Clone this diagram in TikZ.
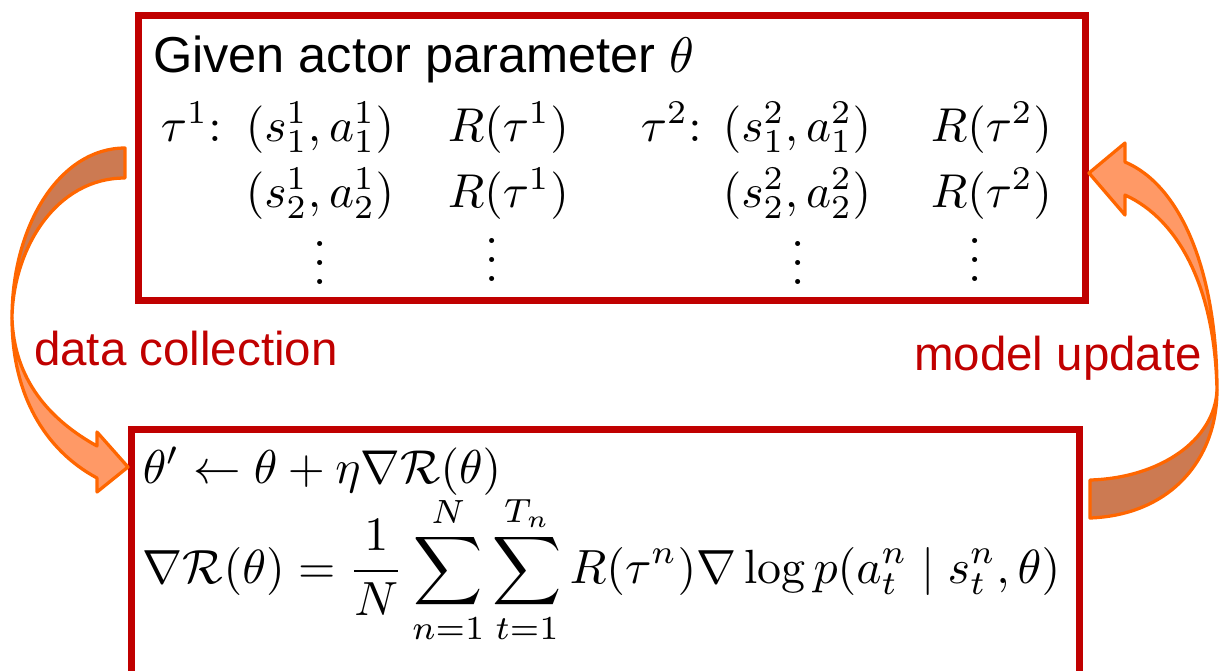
\documentclass[tikz,border=0pt]{standalone}
\usepackage{amsmath,amssymb}
\usepackage{fontspec}
\setsansfont{Liberation Sans}
\definecolor{boxred}{RGB}{192,0,0}
\definecolor{arrline}{RGB}{255,102,0}
\definecolor{arrlight}{RGB}{255,153,102}
\definecolor{arrdark}{RGB}{204,122,82}
\tikzset{
  framebox/.style={draw=boxred, line width=1.4pt, inner sep=0pt, anchor=north west},
  txt/.style={inner sep=0pt, font=\sffamily\fontsize{10.1}{12}\selectfont},
  lbl/.style={inner sep=0pt, text=boxred, font=\sffamily\fontsize{9.5}{11}\selectfont},
  mth/.style={inner sep=0pt, anchor=base west, scale=0.95},
  dts/.style={inner sep=0pt, anchor=base, scale=0.95},
  arrbody/.style={draw=arrline, line width=0.65pt, line join=round},
}
\begin{document}
\begin{tikzpicture}[x=0.2pt,y=-0.2pt]
\clip (0,0) rectangle (1219,670);
\useasboundingbox (0,0) rectangle (1219,670);
% boxes
\node[framebox, minimum width=189.4pt, minimum height=57.1pt] (topbox) at (135,11.7) {};
\node[framebox, minimum width=189.6pt, minimum height=60pt] (botbox) at (128,426) {};
% top box text
\node[txt, anchor=base west] (title) at (152,72) {Given actor parameter $\theta$};
\node[mth] (t1) at (160,141) {$\tau^1{:}$};
\node[mth] (sa11) at (245,141) {$(s_1^1,a_1^1)$};
\node[mth] (r11) at (447,141) {$R(\tau^1)$};
\node[mth] (t2) at (640,141) {$\tau^2{:}$};
\node[mth] (sa21) at (722,141) {$(s_1^2,a_1^2)$};
\node[mth] (r21) at (930,141) {$R(\tau^2)$};
\node[mth] (sa12) at (245,207) {$(s_2^1,a_2^1)$};
\node[mth] (r12) at (447,207) {$R(\tau^1)$};
\node[mth] (sa22) at (722,207) {$(s_2^2,a_2^2)$};
\node[mth] (r22) at (930,207) {$R(\tau^2)$};
\node[dts] (d1) at (320,284) {$\vdots$};
\node[dts] (d2) at (492,281) {$\vdots$};
\node[dts] (d3) at (798,284) {$\vdots$};
\node[dts] (d4) at (975,281) {$\vdots$};
% bottom box text
\node[mth] (upd) at (142,483) {$\theta' \leftarrow \theta + \eta\nabla\mathcal{R}(\theta)$};
\node[mth, scale=1.01] (grad) at (142,583) {$\displaystyle \nabla\mathcal{R}(\theta) = \frac{1}{N}\sum_{n=1}^{N}\sum_{t=1}^{T_n} R(\tau^n)\nabla\log p(a_t^n \mid s_t^n,\theta)$};
% labels
\node[lbl, anchor=base west] (dc) at (33,365) {data collection};
\node[lbl, anchor=base east] (mu) at (1203,370) {model update};
% left curved arrow
\coordinate (lm) at (12,318);
\fill[arrdark] (125,148) .. controls (60,148) and (12,225) .. (lm)
  .. controls (13,250) and (55,178) .. (125,178) -- cycle;
\draw[arrbody] (125,148) .. controls (60,148) and (12,225) .. (lm)
  .. controls (13,250) and (55,178) .. (125,178) -- cycle;
\draw[arrbody, fill=arrlight] (lm) .. controls (12,395) and (45,450) .. (97,478)
  -- (97,492) -- (128,467) -- (97,432) -- (97,446)
  .. controls (50,420) and (14,380) .. (lm) -- cycle;
% right curved arrow
\coordinate (rm) at (1217,390);
\draw[arrbody, fill=arrlight] (1125,162) .. controls (1180,185) and (1217,270) .. (rm)
  .. controls (1215,290) and (1180,220) .. (1125,195)
  -- (1125,215) -- (1089,173) -- (1125,143) -- cycle;
\draw[arrbody, fill=arrdark] (rm) .. controls (1217,460) and (1170,515) .. (1090,518)
  -- (1090,480) .. controls (1160,478) and (1215,440) .. (rm) -- cycle;
\end{tikzpicture}
\end{document}
